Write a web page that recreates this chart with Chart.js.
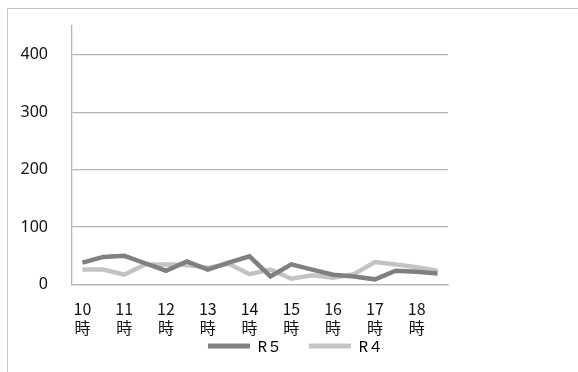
<!DOCTYPE html>
<html><head><meta charset="utf-8">
<script src="https://cdn.jsdelivr.net/npm/chart.js@4.4.1/dist/chart.umd.min.js"></script>
<style>
html,body{margin:0;padding:0;background:#fff;overflow:hidden;width:578px;height:372px;}
#frame{position:absolute;left:7px;top:8px;width:700px;height:500px;border:1px solid #c4c4c4;box-sizing:border-box;}
#wrap{position:absolute;left:0;top:0;width:578px;height:372px;}
</style></head>
<body>
<div id="frame"></div>
<div id="wrap"><canvas id="c" width="578" height="372"></canvas></div>
<script>
const categories = ['10時','','11時','','12時','','13時','','14時','','15時','','16時','','17時','','18時',''];
const seriesNames = ['R５','R４'];
const r5 = [38,48,50,37,24,40,26,38,49,14,35,26,17,14,9,24,22,19];
const r4 = [26,26,17,35,35,34,29,36,18,26,10,16,12,18,39,35,30,24];
const yTicks = [0,100,200,300,400];
const yMax = 450;

const FONT = "'Noto Sans','Noto Sans CJK JP',sans-serif";
const CJK = "'Noto Sans CJK JP','Noto Sans',sans-serif";
Chart.defaults.font.family = FONT;
Chart.defaults.color = '#111';

// move the legend row to sit just under the axis labels
const legendPlace = {
  id: 'legendPlace',
  afterLayout(chart) {
    const lg = chart.legend;
    const h = lg.height;
    lg.top = 311.5; lg.bottom = lg.top + h;
    lg.left -= 2; lg.right -= 2;
  }
};

new Chart(document.getElementById('c'), {
  type: 'line',
  data: {
    labels: categories,
    datasets: [
      {label: seriesNames[0], data: r5, borderColor: '#808080', backgroundColor: '#808080', borderWidth: 4.5, pointRadius: 0, tension: 0, yAxisID: 'y'},
      {label: seriesNames[1], data: r4, borderColor: '#c3c3c3', backgroundColor: '#c3c3c3', borderWidth: 4.5, pointRadius: 0, tension: 0, yAxisID: 'y'}
    ]
  },
  plugins: [legendPlace],
  options: {
    responsive: false,
    animation: false,
    devicePixelRatio: 1,
    layout: {autoPadding: false, padding: {left: 17, top: 26, right: 0, bottom: -24.5}},
    plugins: {
      tooltip: {enabled: false},
      legend: {
        position: 'bottom',
        labels: {
          font: {size: 15, family: CJK},
          color: '#111',
          boxWidth: 42, boxHeight: 5,
          padding: 27,
          generateLabels: (chart) => chart.data.datasets.map((d, i) => ({
            text: d.label, fillStyle: d.borderColor, strokeStyle: d.borderColor, lineWidth: 0, datasetIndex: i, hidden: false
          }))
        }
      }
    },
    scales: {
      x: {
        type: 'category',
        offset: true,
        grid: {display: false, drawTicks: false},
        border: {display: true, color: '#b4b4b4', width: 1.3},
        ticks: {
          autoSkip: false, maxRotation: 0, minRotation: 0, padding: 15,
          font: {size: 16, family: CJK, lineHeight: 1.2}, color: '#111',
          callback: function(v, i) { const s = categories[i]; return s ? [s.replace('時',''), '時'] : ''; }
        },
        afterFit: (s) => { s.height = 60; s.paddingLeft = 0; s.paddingRight = 0; }
      },
      y: {
        min: 0, max: yMax,
        grid: {color: '#b4b4b4', lineWidth: 1.3, drawTicks: false},
        border: {display: true, color: '#b4b4b4', width: 1.3},
        afterBuildTicks: (s) => { s.ticks = yTicks.map(v => ({value: v})); },
        ticks: {padding: 24, font: {size: 16, family: FONT}, color: '#111'},
        afterFit: (s) => { s.width = 55; s.paddingTop = 0; s.paddingBottom = 0; }
      },
      yR: {
        position: 'right',
        display: true,
        min: 0, max: 1,
        grid: {display: false, drawTicks: false},
        border: {display: false},
        ticks: {display: false},
        afterFit: (s) => { s.width = 130; s.paddingTop = 0; s.paddingBottom = 0; }
      }
    }
  }
});
</script>
</body></html>
